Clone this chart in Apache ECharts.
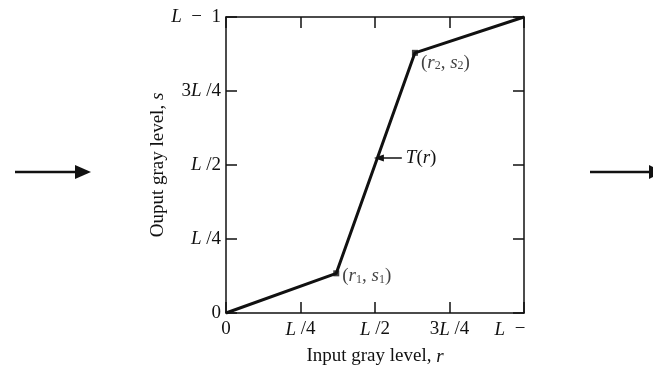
<!DOCTYPE html>
<html>
<head>
<meta charset="utf-8">
<script src="https://cdn.jsdelivr.net/npm/echarts@6/dist/echarts.min.js"></script>
<style>
  html, body { margin: 0; padding: 0; background: #fff; }
  #chart { width: 653px; height: 374px; }
</style>
</head>
<body>
<div id="chart"></div>
<script>
// piecewise contrast stretching T(r)
const rVals = [0, 0.37, 0.634, 1];
const sVals = [0, 0.134, 0.879, 1];
const tickVals = [0, 0.25, 0.5, 0.75, 1];
const xTickLabels = ['0', 'L /4', 'L /2', '3L /4', 'L\u2002\u2212'];
const yTickLabels = ['0', 'L /4', 'L /2', '3L /4', 'L\u2002\u2212\u20021'];
const knotNames = [['r', '1', 's', '1'], ['r', '2', 's', '2']];
const knotIdx = [1, 2];
const arrowFrom = [0.59, 0.524];
const arrowTo = [0.513, 0.524];

const font = '"Liberation Serif", "DejaVu Serif", serif';
const base = { fontFamily: font, fontSize: 19, color: '#111' };
const rich = {
  n: base,
  i: Object.assign({}, base, { fontStyle: 'italic' }),
  prn: Object.assign({}, base, { padding: [0, 28, 0, 0] }),
  sub: { fontFamily: font, fontSize: 12, color: '#111', verticalAlign: 'bottom', padding: [7, 0, 0, 0] }
};

function mathLabel(s) {
  return s.split('L').map(p => p ? '{n|' + p + '}' : '').join('{i|L}');
}
function tickFmt(labels, shiftLast) {
  return v => {
    const k = Math.round(v * 4);
    if (labels[k] === undefined) return '';
    // last x label is cut off in the original, keep it left of the tick
    if (shiftLast && k === 4) return '{i|L}{prn|' + labels[k].slice(1) + '}';
    return mathLabel(labels[k]);
  };
}

const axisLine = { show: true, onZero: false, lineStyle: { color: '#111', width: 1.5 } };
const axisTick = { show: true, inside: true, length: 11, lineStyle: { color: '#111', width: 1.5 } };

function xAx(pos, labels) {
  return {
    type: 'value', position: pos, min: 0, max: 1, interval: 0.25,
    axisLine, axisTick, splitLine: { show: false },
    axisLabel: labels ? { show: true, margin: 7, showMinLabel: true, showMaxLabel: true,
      formatter: tickFmt(labels, true), rich } : { show: false },
    name: labels ? 'Input gray level, {i|r}' : '',
    nameLocation: 'middle', nameGap: 34,
    nameTextStyle: Object.assign({}, base, { rich })
  };
}
function yAx(pos, labels) {
  return {
    type: 'value', position: pos, min: 0, max: 1, interval: 0.25,
    axisLine, axisTick, splitLine: { show: false },
    axisLabel: labels ? { show: true, margin: 5, showMinLabel: true, showMaxLabel: true,
      formatter: tickFmt(labels, false), rich } : { show: false },
    name: labels ? 'Ouput gray level, {i|s}' : '',
    nameLocation: 'middle', nameRotate: 90, nameGap: 54,
    nameTextStyle: Object.assign({}, base, { rich })
  };
}

const chart = echarts.init(document.getElementById('chart'));
chart.setOption({
  animation: false,
  backgroundColor: '#fff',
  grid: { left: 226, top: 17, right: 129, bottom: 61, outerBoundsMode: 'none', containLabel: false },
  xAxis: [xAx('bottom', xTickLabels), xAx('top', null)],
  yAxis: [yAx('left', yTickLabels), yAx('right', null)],
  graphic: [
    { type: 'line', shape: { x1: 15, y1: 172, x2: 80, y2: 172 }, style: { stroke: '#111', lineWidth: 2.5 } },
    { type: 'polygon', shape: { points: [[75, 165], [91, 172], [75, 179]] }, style: { fill: '#111' } },
    { type: 'line', shape: { x1: 590, y1: 172, x2: 653, y2: 172 }, style: { stroke: '#111', lineWidth: 2.5 } },
    { type: 'polygon', shape: { points: [[649, 165], [663, 172], [649, 179]] }, style: { fill: '#111' } }
  ],
  series: [
    {
      type: 'line',
      data: rVals.map((r, i) => [r, sVals[i]]),
      symbol: 'none',
      clip: false,
      lineStyle: { color: '#111', width: 3 },
      markLine: {
        silent: true,
        symbol: ['none', 'triangle'],
        symbolSize: [7, 10],
        lineStyle: { color: '#111', width: 1.5, type: 'solid' },
        label: {
          show: true, position: 'start', distance: 4,
          formatter: '{i|T}{n|(}{i|r}{n|)}', rich
        },
        data: [[{ coord: arrowFrom }, { coord: arrowTo }]]
      }
    },
    {
      type: 'scatter',
      symbol: 'rect',
      symbolSize: 6,
      itemStyle: { color: '#111' },
      data: knotIdx.map((i, j) => ({
        value: [rVals[i], sVals[i]],
        label: { offset: j === 0 ? [0, 3] : [0, 10] }
      })),
      label: {
        show: true, position: 'right', distance: 3,
        formatter: p => {
          const k = knotNames[p.dataIndex];
          return '{n|(}{i|' + k[0] + '}{sub|' + k[1] + '}{n|, }{i|' + k[2] + '}{sub|' + k[3] + '}{n|)}';
        },
        rich
      }
    }
  ]
});
</script>
</body>
</html>
